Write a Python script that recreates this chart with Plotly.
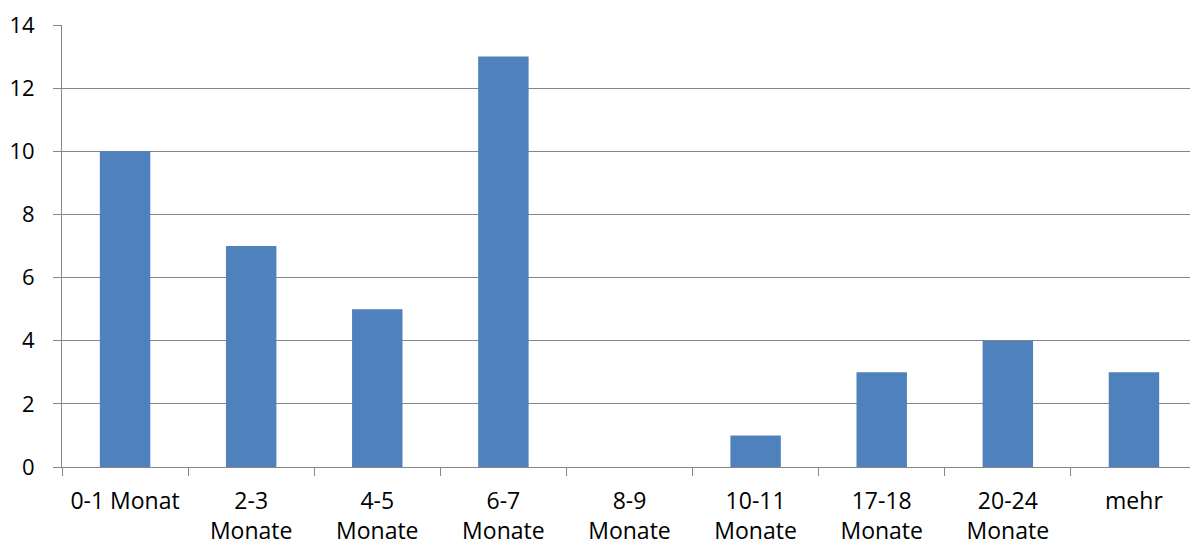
import plotly.graph_objects as go

categories = ["0-1 Monat", "2-3<br>Monate", "4-5<br>Monate", "6-7<br>Monate", "8-9<br>Monate",
              "10-11<br>Monate", "17-18<br>Monate", "20-24<br>Monate", "mehr"]
values = [10, 7, 5, 13, 0, 1, 3, 4, 3]
y_ticks = [0, 2, 4, 6, 8, 10, 12, 14]

font = dict(family="Open Sans, Liberation Sans, sans-serif", size=22, color="#000000")
xfont = dict(family="Open Sans, Liberation Sans, sans-serif", size=23, color="#000000")

fig = go.Figure(go.Bar(x=categories, y=values, marker=dict(color="#4F81BD", line=dict(width=0))))
fig.update_layout(
    width=1190, height=538,
    margin=dict(l=54, r=1, t=17, b=79),
    paper_bgcolor="white", plot_bgcolor="white",
    bargap=0.6, showlegend=False, font=font,
)
fig.update_xaxes(
    type="category", tickson="boundaries", ticks="outside", ticklen=8, tickcolor="#868686",
    showline=True, linecolor="#868686", linewidth=1, showgrid=False, tickfont=xfont,
    tickangle=0, automargin=False, ticklabelstandoff=13,
)
fig.update_yaxes(
    range=[0, 14], tickvals=y_ticks, ticks="outside", ticklen=8, tickcolor="#868686",
    showline=True, linecolor="#868686", linewidth=1, showgrid=True, gridcolor="#868686",
    gridwidth=1, zeroline=False, tickfont=font, ticklabelstandoff=14, automargin=False,
)
fig.write_html("out.html")
